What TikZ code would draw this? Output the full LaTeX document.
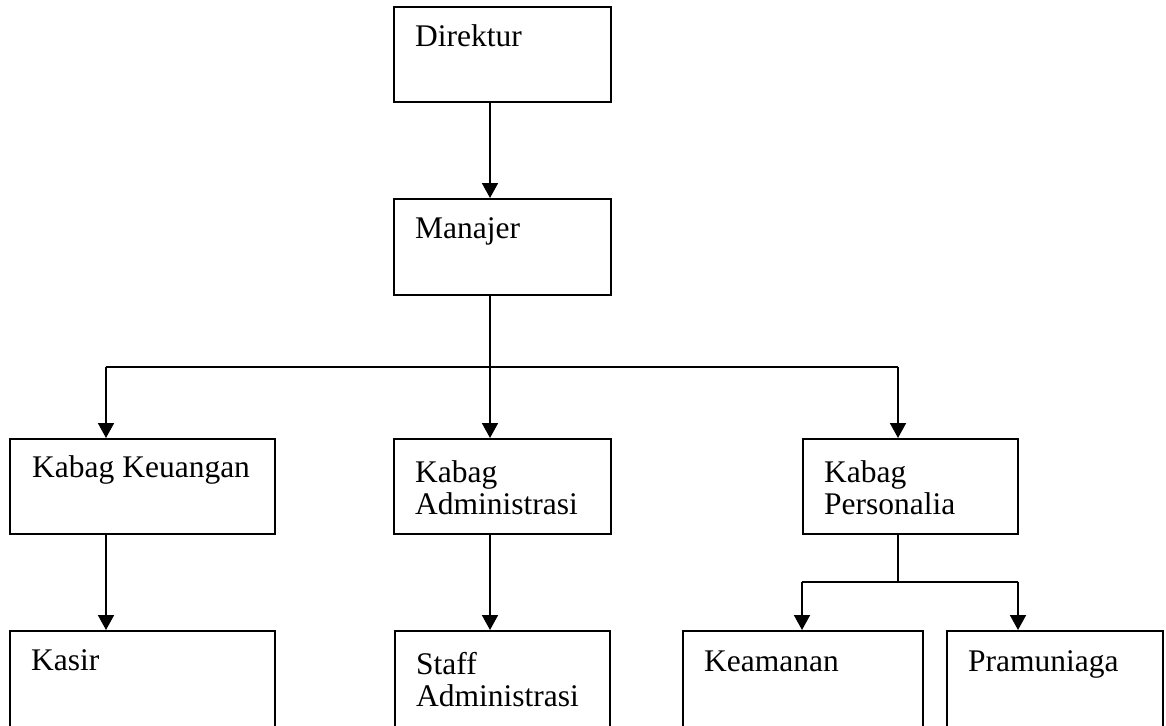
\documentclass[tikz,border=0pt]{standalone}
\usepackage{fontspec}
\setmainfont{Liberation Serif}
\usetikzlibrary{arrows.meta}

\tikzset{
  unit/.style={draw, line width=1.8pt, rectangle, inner sep=0pt, anchor=north west},
  unitlabel/.style={anchor=north west, inner sep=0pt, align=left,
    font=\fontsize{31.5}{32.5}\selectfont, execute at begin node=\strut},
  link/.style={line width=1.8pt},
  arr/.style={line width=1.8pt, -{Triangle[width=16pt,length=15pt]}}
}

\begin{document}
\begin{tikzpicture}[x=1pt,y=1pt,yscale=-1]
\useasboundingbox (0,0) rectangle (1166,725);
\clip (0,0) rectangle (1166,725);

%Shape: Rectangles
\node[unit, minimum width=217pt, minimum height=95pt] (dir) at (393,6) {};
\node[unit, minimum width=217pt, minimum height=96pt] (man) at (393,198) {};
\node[unit, minimum width=265pt, minimum height=95pt] (keu) at (9,438) {};
\node[unit, minimum width=217pt, minimum height=95pt] (adm) at (393,438) {};
\node[unit, minimum width=215pt, minimum height=95pt] (per) at (802,438) {};
\node[unit, minimum width=265pt, minimum height=97pt] (kas) at (9,630) {};
\node[unit, minimum width=215pt, minimum height=97pt] (stf) at (394,630) {};
\node[unit, minimum width=240pt, minimum height=97pt] (kea) at (682,630) {};
\node[unit, minimum width=216pt, minimum height=97pt] (pra) at (946,630) {};

% Text Node
\node[unitlabel] (dirT) at ([xshift=22pt,yshift=18pt]dir.north west) {Direktur};
\node[unitlabel] (manT) at ([xshift=22pt,yshift=18pt]man.north west) {Manajer};
\node[unitlabel] (keuT) at ([xshift=23pt,yshift=17pt]keu.north west) {Kabag Keuangan};
\node[unitlabel] (admT) at ([xshift=22pt,yshift=22pt]adm.north west) {Kabag\\Administrasi};
\node[unitlabel] (perT) at ([xshift=22pt,yshift=22pt]per.north west) {Kabag\\Personalia};
\node[unitlabel] (kasT) at ([xshift=22pt,yshift=18pt]kas.north west) {Kasir};
\node[unitlabel] (stfT) at ([xshift=22pt,yshift=22pt]stf.north west) {Staff\\Administrasi};
\node[unitlabel] (keaT) at ([xshift=22pt,yshift=19pt]kea.north west) {Keamanan};
\node[unitlabel] (praT) at ([xshift=22pt,yshift=19pt]pra.north west) {Pramuniaga};

%Straight Lines
\coordinate (spine) at (490,0);
\coordinate (leftX) at (106,0);
\coordinate (rightX) at (898,0);
\coordinate (farX) at (1018,0);
\coordinate (bar) at (0,367);
\coordinate (subbar) at (0,582);

\draw[arr] (dir.south -| spine) -- (man.north -| spine);
\draw[link] (man.south -| spine) -- (bar -| spine);
\draw[link] (bar -| leftX) -- (bar -| rightX);
\draw[arr] (bar -| leftX) -- (keu.north -| leftX);
\draw[arr] (bar -| spine) -- (adm.north -| spine);
\draw[arr] (bar -| rightX) -- (per.north -| rightX);

\draw[arr] (keu.south -| leftX) -- (kas.north -| leftX);
\draw[arr] (adm.south -| spine) -- (stf.north -| spine);

\draw[link] (per.south -| rightX) -- (subbar -| rightX);
\draw[link] (subbar -| per.west) -- (subbar -| farX);
\draw[arr] (subbar -| per.west) -- (kea.north -| per.west);
\draw[arr] (subbar -| farX) -- (pra.north -| farX);

\end{tikzpicture}
\end{document}
